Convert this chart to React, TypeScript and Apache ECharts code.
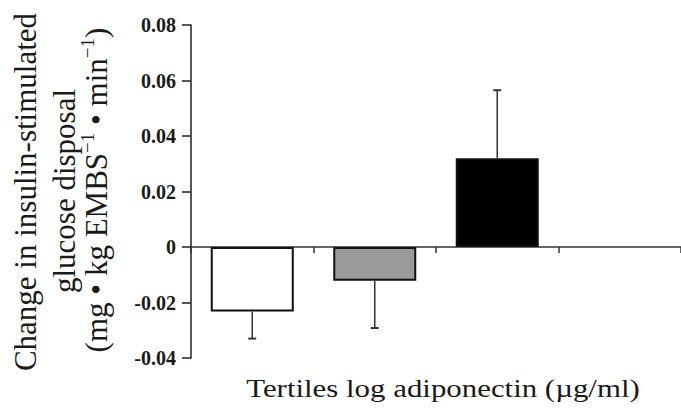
import React, { useEffect, useRef } from "react";
import * as echarts from "echarts";

const categories = ["Tertile 1", "Tertile 2", "Tertile 3", ""];
const means = [-0.0232, -0.0122, 0.032];
const errors = [0.0098, 0.017, 0.0245];
const barColors = ["#ffffff", "#9a9a9a", "#000000"];
const yTitleLines = ["Change in insulin-stimulated", "glucose disposal"];
const xTitle = "Tertiles log adiponectin (\u00b5g/ml)";

const SERIF = "Liberation Serif";

export default function App() {
  const ref = useRef<HTMLDivElement>(null);
  useEffect(() => {
    if (!ref.current) return;
    const chart = echarts.init(ref.current, undefined, { renderer: "svg" });
    const errData = means.map((m, i) => [i, m, m + Math.sign(m) * errors[i]]);
    chart.setOption({
      animation: false,
      backgroundColor: "#ffffff",
      grid: { left: 191, right: -9, top: 25, bottom: 54, containLabel: false },
      xAxis: {
        type: "category",
        data: categories,
        axisLine: { show: true, onZero: true, lineStyle: { color: "#333", width: 1.5 } },
        axisTick: { show: true, inside: false, length: 6, lineStyle: { color: "#333", width: 1.5 } },
        axisLabel: { show: false },
        splitLine: { show: false },
      },
      yAxis: {
        type: "value",
        min: -0.04,
        max: 0.08,
        interval: 0.02,
        axisLine: { show: true, onZero: false, lineStyle: { color: "#222", width: 1.5 } },
        axisTick: { show: true, inside: false, length: 9, lineStyle: { color: "#222", width: 1.5 } },
        axisLabel: {
          margin: 15,
          fontFamily: SERIF,
          fontWeight: "bold",
          fontSize: 20,
          color: "#1a1a1a",
          formatter: (v: number) => (Math.abs(v) < 1e-9 ? "0" : v.toFixed(2)),
        },
        splitLine: { show: false },
      },
      series: [
        {
          type: "bar",
          data: means.map((v, i) => ({ value: v, itemStyle: { color: barColors[i] } })),
          barWidth: 83,
          itemStyle: { borderColor: "#111", borderWidth: 2 },
          z: 2,
        },
        {
          type: "custom",
          data: errData,
          encode: { x: 0, y: 2 },
          z: 3,
          renderItem: (params: any, api: any) => {
            const idx = api.value(0);
            const start = api.coord([idx, api.value(1)]);
            const end = api.coord([idx, api.value(2)]);
            const cap = 4;
            const style = { stroke: "#333", lineWidth: 1.5 };
            return {
              type: "group",
              children: [
                { type: "line", shape: { x1: start[0], y1: start[1], x2: end[0], y2: end[1] }, style },
                { type: "line", shape: { x1: end[0] - cap, y1: end[1], x2: end[0] + cap, y2: end[1] }, style: { stroke: "#333", lineWidth: 2 } },
              ],
            };
          },
        },
      ],
      graphic: [
        {
          type: "text",
          x: 25,
          y: 192,
          rotation: Math.PI / 2,
          style: { text: yTitleLines[0], fontFamily: SERIF, fontSize: 31, fill: "#1a1a1a", align: "center", verticalAlign: "middle" },
        },
        {
          type: "text",
          x: 64,
          y: 191,
          rotation: Math.PI / 2,
          style: { text: yTitleLines[1], fontFamily: SERIF, fontSize: 31, fill: "#1a1a1a", align: "center", verticalAlign: "middle" },
        },
        {
          type: "text",
          x: 95,
          y: 190,
          rotation: Math.PI / 2,
          style: {
            text: "{n|(mg \u2022 kg EMBS}{s|\u22121}{n| \u2022 min}{s|\u22121}{n|)}",
            fill: "#1a1a1a",
            align: "center",
            verticalAlign: "middle",
            rich: {
              n: { fontFamily: SERIF, fontSize: 31, lineHeight: 34, verticalAlign: "bottom", fill: "#1a1a1a" },
              s: { fontFamily: SERIF, fontSize: 19, lineHeight: 34, verticalAlign: "top", fill: "#1a1a1a" },
            },
          },
        },
        {
          type: "text",
          x: 443,
          y: 389,
          scaleX: 1.26,
          style: { text: xTitle, fontFamily: SERIF, fontSize: 24.5, fill: "#1a1a1a", align: "center", verticalAlign: "middle" },
        },
      ],
    });
    return () => chart.dispose();
  }, []);
  return <div ref={ref} style={{ position: "fixed", left: 0, top: 0, width: "681px", height: "412px" }} />;
}
